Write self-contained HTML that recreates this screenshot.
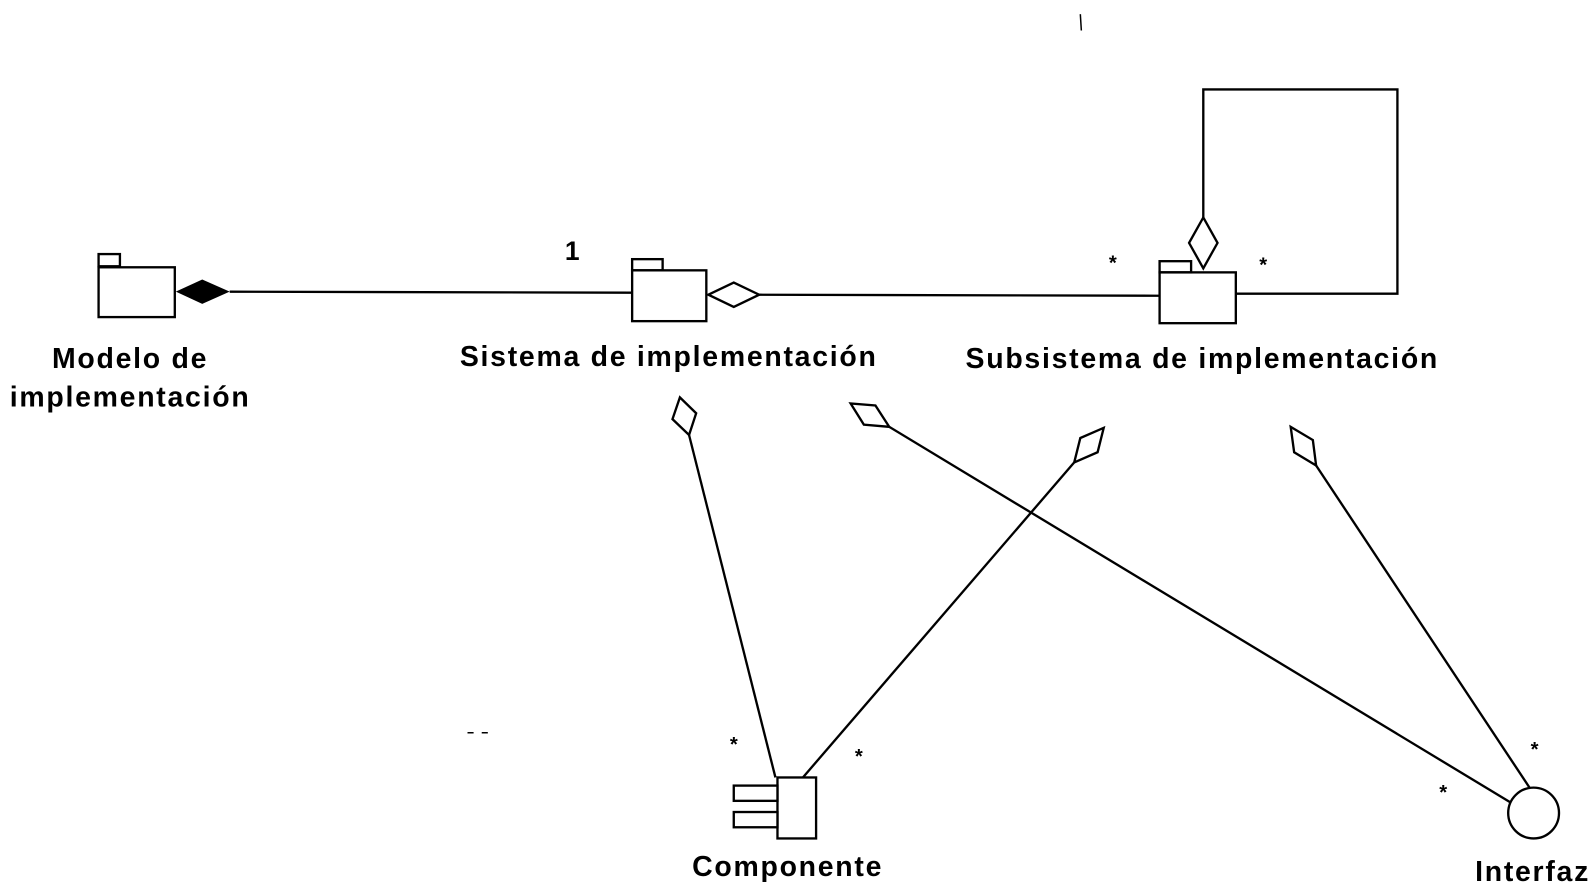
<!DOCTYPE html>
<html><head><meta charset="utf-8"><style>
html,body{margin:0;padding:0;background:#fff;}
svg{display:block;}
text{font-family:"Liberation Sans",sans-serif;font-weight:bold;fill:#000;}
</style></head><body>
<svg width="1593" height="892" viewBox="0 0 1593 892" xmlns="http://www.w3.org/2000/svg">
<g transform="scale(1.0163)">
<g fill="none" stroke="#000" stroke-width="2.3">
<rect x="97" y="250" width="21" height="12"/>
<rect x="97" y="263" width="75" height="49"/>
<rect x="622" y="255" width="30" height="11"/>
<rect x="622" y="266" width="73" height="50"/>
<rect x="1141" y="257" width="31" height="11"/>
<rect x="1141" y="268" width="75" height="50"/>
<line x1="226" y1="287" x2="622" y2="288"/>
<line x1="747" y1="290" x2="1141" y2="291"/>
<polyline points="1184,214 1184,88 1375,88 1375,289 1216,289"/>
<line x1="678" y1="428" x2="763" y2="765"/>
<line x1="1057" y1="455" x2="790" y2="765"/>
<line x1="875" y1="420" x2="1487" y2="790"/>
<line x1="1295" y1="458" x2="1505" y2="775"/>
<polygon fill="#fff" points="697,290 722,278 747,290 722,302"/>
<polygon fill="#fff" points="1184,214 1198,239 1184,264 1170,239"/>
<polygon fill="#fff" points="678,428 685,406.6 669,391 661.7,412.4"/>
<polygon fill="#fff" points="1057,455 1080,445 1086,421 1063,431"/>
<polygon fill="#fff" points="875,420 861.4,399 837,397 850,417.8"/>
<polygon fill="#fff" points="1295,458 1291.8,433 1270,420 1273.4,445"/>
<rect x="765" y="765" width="38" height="60"/>
<rect x="722" y="773" width="43" height="15" fill="#fff"/>
<rect x="722" y="799" width="43" height="15" fill="#fff"/>
<circle cx="1509" cy="800" r="25" fill="#fff"/>
<line x1="1063" y1="14" x2="1064" y2="30" stroke-width="1.5"/>
<line x1="460" y1="721" x2="466" y2="721" stroke-width="1.5"/>
<line x1="474" y1="721" x2="480" y2="721" stroke-width="1.5"/>
</g>
<polygon fill="#000" points="173,287 199,275 226,287 199,299"/>
<g font-size="28" letter-spacing="1.7">
<text x="128" y="362" text-anchor="middle">Modelo de</text>
<text x="128" y="400" text-anchor="middle">implementación</text>
<text x="658" y="360" text-anchor="middle">Sistema de implementación</text>
<text x="1183" y="362" text-anchor="middle">Subsistema de implementación</text>
<text x="775" y="862" text-anchor="middle">Componente</text>
<text x="1508" y="867" text-anchor="middle">Interfaz</text>
<text x="563" y="256" text-anchor="middle" font-size="26" letter-spacing="0">1</text>
</g>
<g font-size="20" text-anchor="middle">
<text x="1095" y="265">*</text>
<text x="1243" y="267">*</text>
<text x="722" y="739">*</text>
<text x="845" y="751">*</text>
<text x="1420" y="786">*</text>
<text x="1510" y="744">*</text>
</g>
</g>
</svg>
</body></html>
